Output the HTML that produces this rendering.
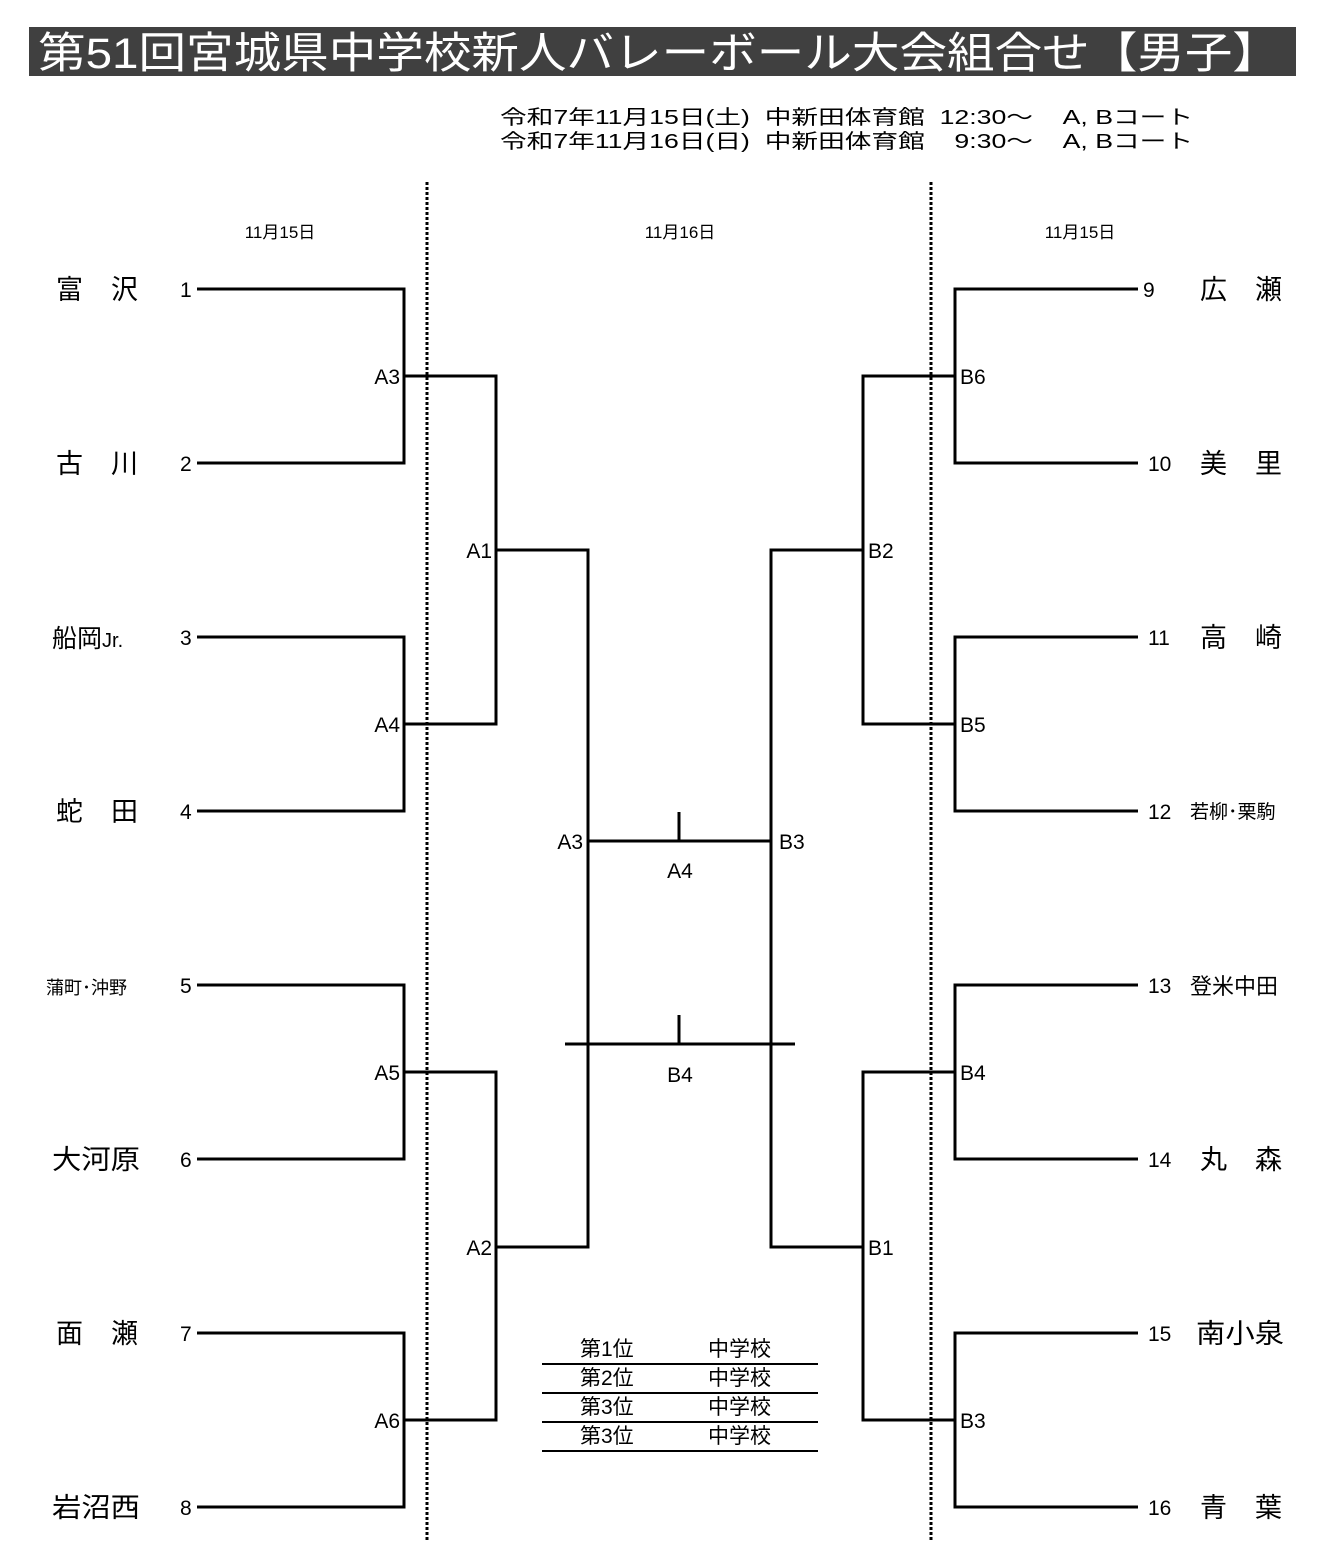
<!DOCTYPE html>
<html><head><meta charset="utf-8"><style>
html,body{margin:0;padding:0;background:#fff}
svg{display:block}
text{font-family:"Liberation Sans","Noto Sans CJK JP",sans-serif;fill:#000}
</style></head><body>
<svg width="1328" height="1542" viewBox="0 0 1328 1542" xmlns="http://www.w3.org/2000/svg">
<rect x="29" y="27" width="1267" height="49" fill="#404040"/>
<text x="38" y="68" font-size="43" textLength="1242" lengthAdjust="spacingAndGlyphs" style="fill:#fff">第51回宮城県中学校新人バレーボール大会組合せ【男子】</text>
<text x="500" y="124" font-size="20" textLength="693" lengthAdjust="spacingAndGlyphs" xml:space="preserve">令和7年11月15日(土)  中新田体育館  12:30～    A, Bコート</text>
<text x="500" y="148" font-size="20" textLength="693" lengthAdjust="spacingAndGlyphs" xml:space="preserve">令和7年11月16日(日)  中新田体育館    9:30～    A, Bコート</text>
<g stroke="#000" stroke-width="3" stroke-dasharray="3,2">
<line x1="427" y1="182" x2="427" y2="1540"/><line x1="931" y1="182" x2="931" y2="1540"/></g>
<g font-size="17" text-anchor="middle"><text x="280" y="238">11月15日</text><text x="680" y="238">11月16日</text><text x="1080" y="238">11月15日</text></g>
<g stroke="#000" stroke-width="3" fill="none">
<path d="M197 289H404V463H197M197 637H404V811H197M197 985H404V1159H197M197 1333H404V1507H197"/>
<path d="M404 376H496V724H404M404 1072H496V1420H404"/>
<path d="M496 550H588V1247H496"/>
<path d="M1138 289H955V463H1138M1138 637H955V811H1138M1138 985H955V1159H1138M1138 1333H955V1507H1138"/>
<path d="M955 376H863V724H955M955 1072H863V1420H955"/>
<path d="M863 550H771V1247H863"/>
<path d="M588 841H771M679 812V841M565 1044H795M679 1015V1044"/>
<path d="M542 1364H818M542 1393H818M542 1422H818M542 1451H818" stroke-width="2"/>
</g>
<g font-size="27">
<text x="56" y="299" textLength="82" lengthAdjust="spacing">富 沢</text><text x="56" y="473" textLength="82" lengthAdjust="spacing">古 川</text>
<text x="52" y="647" font-size="25">船岡<tspan font-size="20">Jr.</tspan></text><text x="56" y="821" textLength="82" lengthAdjust="spacing">蛇 田</text>
<text x="46" y="994" font-size="18">蒲町･沖野</text><text x="52" y="1169" textLength="88" lengthAdjust="spacingAndGlyphs">大河原</text>
<text x="56" y="1343" textLength="82" lengthAdjust="spacing">面 瀬</text><text x="52" y="1517" textLength="88" lengthAdjust="spacingAndGlyphs">岩沼西</text>
<text x="1200" y="299" textLength="82" lengthAdjust="spacing">広 瀬</text><text x="1200" y="473" textLength="82" lengthAdjust="spacing">美 里</text>
<text x="1200" y="647" textLength="82" lengthAdjust="spacing">高 崎</text><text x="1190" y="818" font-size="19">若柳･栗駒</text>
<text x="1190" y="994" font-size="22">登米中田</text><text x="1200" y="1169" textLength="82" lengthAdjust="spacing">丸 森</text>
<text x="1196" y="1343" textLength="88" lengthAdjust="spacingAndGlyphs">南小泉</text><text x="1200" y="1517" textLength="82" lengthAdjust="spacing">青 葉</text>
</g>
<g font-size="21">
<text x="180" y="297">1</text><text x="180" y="471">2</text><text x="180" y="645">3</text><text x="180" y="819">4</text>
<text x="180" y="993">5</text><text x="180" y="1167">6</text><text x="180" y="1341">7</text><text x="180" y="1515">8</text>
<text x="1143" y="297">9</text><text x="1148" y="471">10</text><text x="1148" y="645">11</text><text x="1148" y="819">12</text>
<text x="1148" y="993">13</text><text x="1148" y="1167">14</text><text x="1148" y="1341">15</text><text x="1148" y="1515">16</text>
<g text-anchor="end"><text x="400" y="384">A3</text><text x="400" y="732">A4</text><text x="400" y="1080">A5</text><text x="400" y="1428">A6</text>
<text x="492" y="558">A1</text><text x="492" y="1255">A2</text><text x="583" y="849">A3</text></g>
<text x="960" y="384">B6</text><text x="960" y="732">B5</text><text x="960" y="1080">B4</text><text x="960" y="1428">B3</text>
<text x="868" y="558">B2</text><text x="868" y="1255">B1</text><text x="779" y="849">B3</text>
<g text-anchor="middle"><text x="680" y="878">A4</text><text x="680" y="1082">B4</text></g>
<text x="580" y="1356">第1位</text><text x="708" y="1356">中学校</text>
<text x="580" y="1385">第2位</text><text x="708" y="1385">中学校</text>
<text x="580" y="1414">第3位</text><text x="708" y="1414">中学校</text>
<text x="580" y="1443">第3位</text><text x="708" y="1443">中学校</text>
</g>
</svg>
</body></html>
